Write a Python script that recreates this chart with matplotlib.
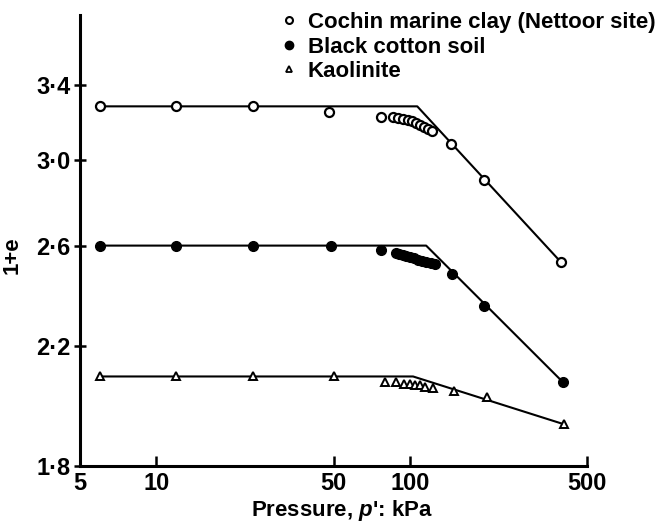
import numpy as np
import matplotlib.pyplot as plt
from matplotlib.ticker import FixedLocator, FixedFormatter, NullLocator
from matplotlib.lines import Line2D

plt.rcParams['font.family'] = ['Liberation Sans', 'DejaVu Sans']
plt.rcParams['mathtext.fontset'] = 'custom'
plt.rcParams['mathtext.it'] = 'Liberation Sans:italic:bold'

# Cochin marine clay (Nettoor site)
cochin_p = [6, 12, 24, 48, 77, 86, 90, 94, 98, 102, 106, 110, 114, 118, 122, 146, 196, 394]
cochin_e = [3.28, 3.28, 3.28, 3.25, 3.22, 3.22, 3.215, 3.21, 3.205, 3.20, 3.19, 3.18,
            3.17, 3.16, 3.15, 3.08, 2.90, 2.53]
cochin_fit_p = [6, 107, 394]
cochin_fit_e = [3.28, 3.28, 2.53]

# Black cotton soil
black_p = [6, 12, 24, 49, 77, 88, 91, 94, 97, 100, 104, 108, 112, 116, 121, 126, 147, 196, 402]
black_e = [2.60, 2.60, 2.60, 2.60, 2.58, 2.57, 2.565, 2.56, 2.555, 2.55, 2.545, 2.54,
           2.535, 2.53, 2.525, 2.52, 2.48, 2.35, 2.07]
black_fit_p = [6, 116, 402]
black_fit_e = [2.60, 2.60, 2.07]

# Kaolinite
kao_p = [6, 12, 24, 50, 80, 88, 95, 100, 105, 110, 115, 123, 150, 201, 405]
kao_e = [2.09, 2.09, 2.09, 2.09, 2.07, 2.07, 2.065, 2.065, 2.06, 2.06, 2.055, 2.05,
         2.04, 2.02, 1.93]
kao_fit_p = [6, 103, 405]
kao_fit_e = [2.09, 2.09, 1.93]

x_ticks = [5, 10, 50, 100, 500]
x_labels = ['5', '10', '50', '100', '500']
y_ticks = [1.8, 2.2, 2.6, 3.0, 3.4]
y_labels = ['1·8', '2·2', '2·6', '3·0', '3·4']
names = ['Cochin marine clay (Nettoor site)', 'Black cotton soil', 'Kaolinite']

fig = plt.figure(figsize=(6.62, 5.22), dpi=100)
ax = fig.add_axes([80/662, 56/522, 507/662, 451/522])
ax.set_xscale('log')
ax.set_yscale('log')

lw = 1.5
ax.plot(cochin_fit_p, cochin_fit_e, color='black', lw=lw)
ax.plot(black_fit_p, black_fit_e, color='black', lw=lw)
ax.plot(kao_fit_p, kao_fit_e, color='black', lw=lw)

ax.plot(cochin_p, cochin_e, 'o', ms=6.5, mfc='white', mec='black', mew=1.6, zorder=3)
ax.plot(black_p, black_e, 'o', ms=7, mfc='black', mec='black', zorder=3)
ax.plot(kao_p, kao_e, '^', ms=5.5, mfc='white', mec='black', mew=1.4, zorder=3)

ax.set_xlim(5, 500)
ax.set_ylim(1.8, 3.82)

ax.xaxis.set_major_locator(FixedLocator(x_ticks))
ax.xaxis.set_major_formatter(FixedFormatter(x_labels))
ax.xaxis.set_minor_locator(NullLocator())
ax.yaxis.set_major_locator(FixedLocator(y_ticks))
ax.yaxis.set_major_formatter(FixedFormatter(y_labels))
ax.yaxis.set_minor_locator(NullLocator())

ax.spines['top'].set_visible(False)
ax.spines['right'].set_visible(False)
ax.spines['left'].set_linewidth(2.2)
ax.spines['bottom'].set_linewidth(2.2)
ax.tick_params(axis='x', direction='in', length=7, width=1.8, pad=4)
ax.tick_params(axis='y', direction='inout', length=8, width=1.8, pad=3)
for lab in ax.get_xticklabels() + ax.get_yticklabels():
    lab.set_fontsize(17)
    lab.set_fontweight('bold')

ax.set_xlabel("Pressure, $p$': kPa", fontsize=16, fontweight='bold')
ax.xaxis.set_label_coords(0.517, -0.07)
ax.set_ylabel('1+e', fontsize=16, fontweight='bold')
ax.yaxis.set_label_coords(-0.113, 0.468)

handles = [
    Line2D([], [], ls='none', marker='o', ms=5, mfc='white', mec='black', mew=1.5),
    Line2D([], [], ls='none', marker='o', ms=6, mfc='black', mec='black'),
    Line2D([], [], ls='none', marker='^', ms=4.5, mfc='white', mec='black', mew=1.3),
]
leg = fig.legend(handles, names, loc='upper left', bbox_to_anchor=(282/662, 1 - 12/522),
                 frameon=False, handlelength=0.6, handletextpad=0.55, labelspacing=0.16,
                 borderaxespad=0, borderpad=0,
                 prop={'family': 'Liberation Sans', 'weight': 'bold', 'size': 16})

fig.savefig('out.png', dpi=100)
